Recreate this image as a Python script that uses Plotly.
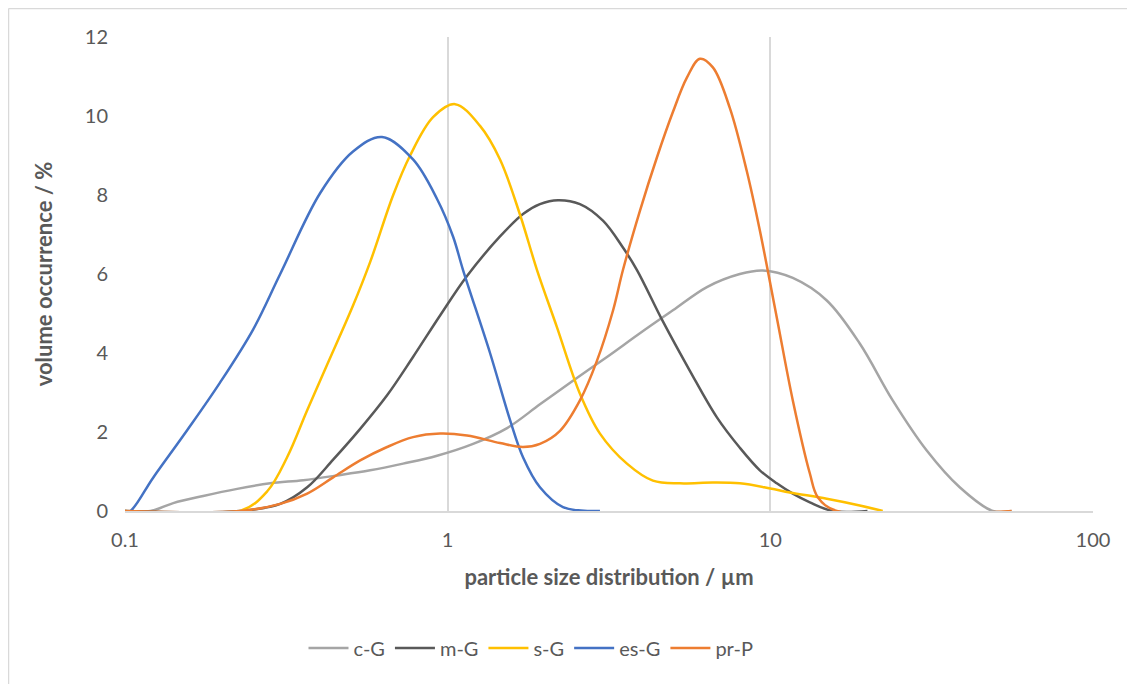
import plotly.graph_objects as go

# ---- data ----
cG_x = [0.1, 0.12, 0.1411, 0.1747, 0.2227, 0.2818, 0.3566, 0.4545, 0.575, 0.7276, 0.927, 1.199,
        1.528, 1.932, 2.445, 3.117, 3.943, 4.989, 6.359, 8.045, 9.48, 11.74, 14.96, 18.93,
        23.95, 30.53, 38.63, 48.88, 55.97]
cG_y = [0.0, 0.0, 0.2, 0.38, 0.56, 0.7, 0.78, 0.9, 1.03, 1.2, 1.4, 1.7,
        2.1, 2.7, 3.3, 3.9, 4.5, 5.08, 5.67, 6.0, 6.09, 5.9, 5.33, 4.24,
        2.8, 1.53, 0.6, 0.0, 0.0]

mG_x = [0.1, 0.2275, 0.3027, 0.367, 0.4416, 0.5356, 0.649, 0.781, 0.9473, 1.148, 1.453, 1.712,
        1.932, 2.198, 2.57, 3.029, 3.493, 3.861, 4.646, 5.632, 6.83, 8.045, 9.28, 10.47,
        11.74, 13.26, 15.62, 20.0]
mG_y = [0.0, 0.0, 0.18, 0.6, 1.3, 2.08, 2.93, 3.9, 4.95, 5.95, 6.95, 7.52,
        7.77, 7.87, 7.77, 7.35, 6.67, 6.1, 4.8, 3.55, 2.37, 1.6, 1.03, 0.7,
        0.44, 0.22, 0.0, 0.0]

sG_x = [0.1, 0.2275, 0.276, 0.318, 0.367, 0.423, 0.509, 0.575, 0.678, 0.765, 0.901, 1.054,
        1.26, 1.453, 1.676, 1.892, 2.182, 2.57, 2.965, 3.594, 4.326, 5.245, 6.636, 8.045,
        10.0, 11.49, 14.96, 18.93, 22.3]
sG_y = [0.0, 0.0, 0.5, 1.36, 2.55, 3.7, 5.2, 6.3, 8.0, 9.0, 9.97, 10.3,
        9.75, 8.9, 7.5, 6.1, 4.65, 2.97, 1.96, 1.2, 0.77, 0.7, 0.72, 0.7,
        0.57, 0.47, 0.31, 0.14, 0.0]

esG_x = [0.1, 0.1038, 0.1224, 0.156, 0.197, 0.2497, 0.3027, 0.4027, 0.509, 0.626, 0.781, 0.927,
         1.039, 1.116, 1.353, 1.561, 1.712, 1.932, 2.277, 2.965]
esG_y = [0.0, 0.0, 0.85, 2.05, 3.25, 4.6, 6.0, 8.05, 9.1, 9.47, 8.9, 7.9,
         6.95, 6.1, 4.0, 2.3, 1.36, 0.6, 0.1, 0.0]

prP_x = [0.1, 0.2275, 0.3027, 0.367, 0.4416, 0.5356, 0.649, 0.781, 0.9473, 1.148, 1.453, 1.712,
         1.932, 2.229, 2.57, 2.901, 3.253, 3.493, 3.943, 4.451, 4.989, 5.513, 6.049, 6.636,
         7.492, 8.456, 9.28, 10.47, 11.74, 13.26, 14.03, 16.07, 55.97]
prP_y = [0.0, 0.0, 0.18, 0.44, 0.85, 1.28, 1.62, 1.87, 1.96, 1.91, 1.72, 1.62,
         1.7, 2.03, 2.8, 3.8, 5.07, 6.1, 7.6, 8.95, 10.1, 10.97, 11.45, 11.23,
         10.2, 8.6, 7.1, 4.9, 2.8, 0.95, 0.35, 0.0, 0.0]

names = ["c-G", "m-G", "s-G", "es-G", "pr-P"]
colors = ["#A5A5A5", "#595959", "#FFC000", "#4472C4", "#ED7D31"]
series = [(cG_x, cG_y), (mG_x, mG_y), (sG_x, sG_y), (esG_x, esG_y), (prP_x, prP_y)]

x_ticks = [0.1, 1, 10, 100]
x_tick_text = ["0.1", "1", "10", "100"]
y_ticks = [0, 2, 4, 6, 8, 10, 12]

FONT = "Lato"
GREY_TXT = "#595959"

# the page body adds an 8px offset; the figure is sized/margined to compensate
W, H = 1127, 676
ML, MR, MT, MB = 117, 42, 29, 173
PW = W - ML - MR   # 968
PH = H - MT - MB   # 474

fig = go.Figure()
for name, color, (xs, ys) in zip(names, colors, series):
    fig.add_trace(go.Scatter(
        x=xs, y=ys, name=name, mode="lines",
        line=dict(color=color, width=2.5, shape="spline", smoothing=1.0),
    ))

fig.update_layout(
    width=W, height=H,
    margin=dict(l=ML, r=MR, t=MT, b=MB, pad=0),
    paper_bgcolor="white", plot_bgcolor="white",
    font=dict(family=FONT, size=20, color=GREY_TXT),
    showlegend=True,
    legend=dict(orientation="h", x=(531 - 125) / PW, xanchor="center",
                y=(511 - 648) / PH, yanchor="middle",
                font=dict(family=FONT, size=20, color=GREY_TXT),
                itemwidth=40, tracegroupgap=0),
    xaxis=dict(
        type="log", range=[-1, 2],
        tickvals=x_ticks, ticktext=x_tick_text,
        showgrid=True, gridcolor="#D9D9D9", gridwidth=1.5,
        showline=True, linecolor="#D9D9D9", linewidth=1.5,
        zeroline=False, ticks="", ticklabelstandoff=10,
        tickfont=dict(family=FONT, size=20, color=GREY_TXT),
        title=dict(text="<b>particle size distribution / µm</b>", standoff=20,
                   font=dict(family=FONT, size=22, color=GREY_TXT)),
    ),
    yaxis=dict(
        range=[0, 12], tickvals=y_ticks,
        showgrid=False, zeroline=False, showline=False,
        ticks="", ticklabelstandoff=16,
        tickfont=dict(family=FONT, size=20, color=GREY_TXT),
        title=dict(text="<b>volume occurrence / %</b>", standoff=26,
                   font=dict(family=FONT, size=22, color=GREY_TXT)),
    ),
)

# chart-area border (left and top edges visible in reference)
bx = (0.5 - ML) / PW
by = (PH + MT - 0.5) / PH
fig.add_shape(type="line", xref="paper", yref="paper",
              x0=bx, x1=bx, y0=-(MB + 5) / PH, y1=by,
              line=dict(color="#D9D9D9", width=1.5), layer="below")
fig.add_shape(type="line", xref="paper", yref="paper",
              x0=bx, x1=(W - ML + 5) / PW, y0=by, y1=by,
              line=dict(color="#D9D9D9", width=1.5), layer="below")

fig.write_html("out.html")
